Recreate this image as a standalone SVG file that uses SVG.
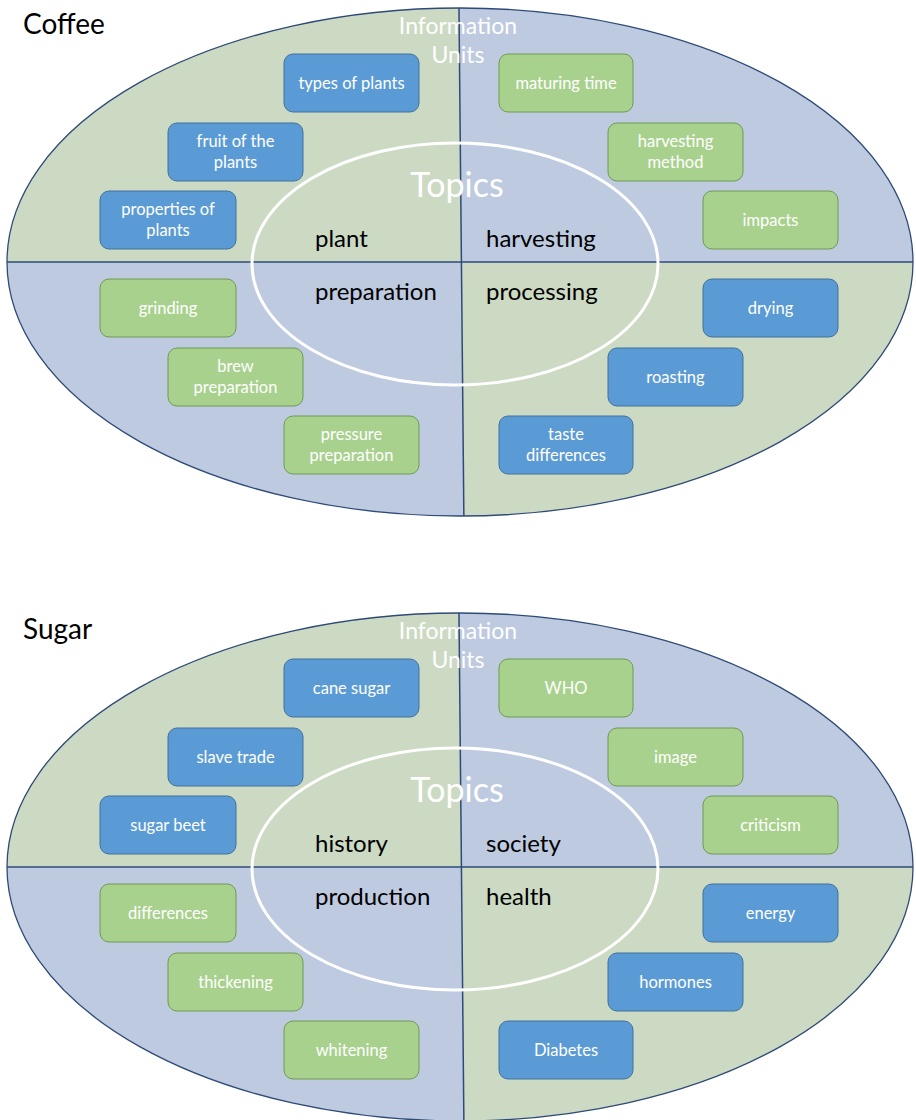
<svg xmlns="http://www.w3.org/2000/svg" width="916" height="1120" viewBox="0 0 916 1120">
<style>
.title{font-family:Lato,"Liberation Sans",sans-serif;font-size:28px;fill:#000}
.info{font-family:Lato,"Liberation Sans",sans-serif;font-size:23px;fill:#fff;text-anchor:middle}
.topics{font-family:Lato,"Liberation Sans",sans-serif;font-size:34px;fill:#fff;text-anchor:middle}
.topic{font-family:Lato,"Liberation Sans",sans-serif;font-size:24px;fill:#000}
.bt{font-family:Lato,"Liberation Sans",sans-serif;font-size:16.5px;fill:#fff;text-anchor:middle}
.blue{fill:#5B9BD5;stroke:#41719C;stroke-width:1}
.green{fill:#A9D18E;stroke:#6E9A50;stroke-width:1}
.qg{fill:#CCDAC3}
.qb{fill:#BECAE0}
.outline{fill:none;stroke:#2E4A78;stroke-width:1.3}
.div{stroke:#2E4A78;stroke-width:1.5}
.inner{fill:none;stroke:#fff;stroke-width:3}
</style>
<defs>
<clipPath id="clipE"><ellipse cx="460" cy="262" rx="453" ry="254"/></clipPath>
<g id="bg">
<g clip-path="url(#clipE)">
<polygon class="qg" points="0,0 458.9,0 461.2,262 0,262"/>
<polygon class="qb" points="458.9,0 916,0 916,262 461.2,262"/>
<polygon class="qb" points="0,262 461.2,262 464,530 0,530"/>
<polygon class="qg" points="461.2,262 916,262 916,530 464,530"/>
<line class="div" x1="6" y1="262" x2="914" y2="262"/>
<line class="div" x1="458.9" y1="0" x2="464" y2="530"/>
</g>
<ellipse class="outline" cx="460" cy="262" rx="453" ry="254"/>
<ellipse class="inner" cx="455" cy="264" rx="203" ry="121"/>
<text class="info" x="458" y="34">Information</text>
<text class="info" x="458" y="63">Units</text>
<text class="topics" x="457" y="197">Topics</text>
</g>
</defs>

<g id="coffee">
<g id="coffee-frame"><use href="#bg"/></g>
<text class="title" x="23" y="34">Coffee</text>
<g id="topic-plant"><text class="topic" x="315" y="247">plant</text></g>
<g id="topic-harvesting"><text class="topic" x="486" y="247">harvesting</text></g>
<g id="topic-preparation"><text class="topic" x="315" y="300">preparation</text></g>
<g id="topic-processing"><text class="topic" x="486" y="300">processing</text></g>
<g id="c-types"><rect class="blue" x="284" y="54" width="135" height="58" rx="9"/><text class="bt" x="351.5" y="89">types of plants</text></g>
<g id="c-fruit"><rect class="blue" x="168" y="123" width="135" height="58" rx="9"/><text class="bt" x="235.5" y="147">fruit of the</text><text class="bt" x="235.5" y="168">plants</text></g>
<g id="c-properties"><rect class="blue" x="100" y="191" width="136" height="58" rx="9"/><text class="bt" x="168" y="215">properties of</text><text class="bt" x="168" y="236">plants</text></g>
<g id="c-maturing"><rect class="green" x="499" y="54" width="134" height="58" rx="9"/><text class="bt" x="566" y="89">maturing time</text></g>
<g id="c-harvesting"><rect class="green" x="608" y="123" width="135" height="58" rx="9"/><text class="bt" x="675.5" y="147">harvesting</text><text class="bt" x="675.5" y="168">method</text></g>
<g id="c-impacts"><rect class="green" x="703" y="191" width="135" height="58" rx="9"/><text class="bt" x="770.5" y="226">impacts</text></g>
<g id="c-grinding"><rect class="green" x="100" y="279" width="136" height="58" rx="9"/><text class="bt" x="168" y="314">grinding</text></g>
<g id="c-brew"><rect class="green" x="168" y="348" width="135" height="58" rx="9"/><text class="bt" x="235.5" y="372">brew</text><text class="bt" x="235.5" y="393">preparation</text></g>
<g id="c-pressure"><rect class="green" x="284" y="416" width="135" height="58" rx="9"/><text class="bt" x="351.5" y="440">pressure</text><text class="bt" x="351.5" y="461">preparation</text></g>
<g id="c-drying"><rect class="blue" x="703" y="279" width="135" height="58" rx="9"/><text class="bt" x="770.5" y="314">drying</text></g>
<g id="c-roasting"><rect class="blue" x="608" y="348" width="135" height="58" rx="9"/><text class="bt" x="675.5" y="383">roasting</text></g>
<g id="c-taste"><rect class="blue" x="499" y="416" width="134" height="58" rx="9"/><text class="bt" x="566" y="440">taste</text><text class="bt" x="566" y="461">differences</text></g>
</g>

<g id="sugar" transform="translate(0,605)">
<g id="sugar-frame"><use href="#bg"/></g>
<text class="title" x="23" y="34">Sugar</text>
<g id="topic-history"><text class="topic" x="315" y="247">history</text></g>
<g id="topic-society"><text class="topic" x="486" y="247">society</text></g>
<g id="topic-production"><text class="topic" x="315" y="300">production</text></g>
<g id="topic-health"><text class="topic" x="486" y="300">health</text></g>
<g id="s-cane"><rect class="blue" x="284" y="54" width="135" height="58" rx="9"/><text class="bt" x="351.5" y="89">cane sugar</text></g>
<g id="s-slave"><rect class="blue" x="168" y="123" width="135" height="58" rx="9"/><text class="bt" x="235.5" y="158">slave trade</text></g>
<g id="s-beet"><rect class="blue" x="100" y="191" width="136" height="58" rx="9"/><text class="bt" x="168" y="226">sugar beet</text></g>
<g id="s-who"><rect class="green" x="499" y="54" width="134" height="58" rx="9"/><text class="bt" x="566" y="89">WHO</text></g>
<g id="s-image"><rect class="green" x="608" y="123" width="135" height="58" rx="9"/><text class="bt" x="675.5" y="158">image</text></g>
<g id="s-criticism"><rect class="green" x="703" y="191" width="135" height="58" rx="9"/><text class="bt" x="770.5" y="226">criticism</text></g>
<g id="s-differences"><rect class="green" x="100" y="279" width="136" height="58" rx="9"/><text class="bt" x="168" y="314">differences</text></g>
<g id="s-thickening"><rect class="green" x="168" y="348" width="135" height="58" rx="9"/><text class="bt" x="235.5" y="383">thickening</text></g>
<g id="s-whitening"><rect class="green" x="284" y="416" width="135" height="58" rx="9"/><text class="bt" x="351.5" y="451">whitening</text></g>
<g id="s-energy"><rect class="blue" x="703" y="279" width="135" height="58" rx="9"/><text class="bt" x="770.5" y="314">energy</text></g>
<g id="s-hormones"><rect class="blue" x="608" y="348" width="135" height="58" rx="9"/><text class="bt" x="675.5" y="383">hormones</text></g>
<g id="s-diabetes"><rect class="blue" x="499" y="416" width="134" height="58" rx="9"/><text class="bt" x="566" y="451">Diabetes</text></g>
</g>
<g id="connectors"/>
</svg>
